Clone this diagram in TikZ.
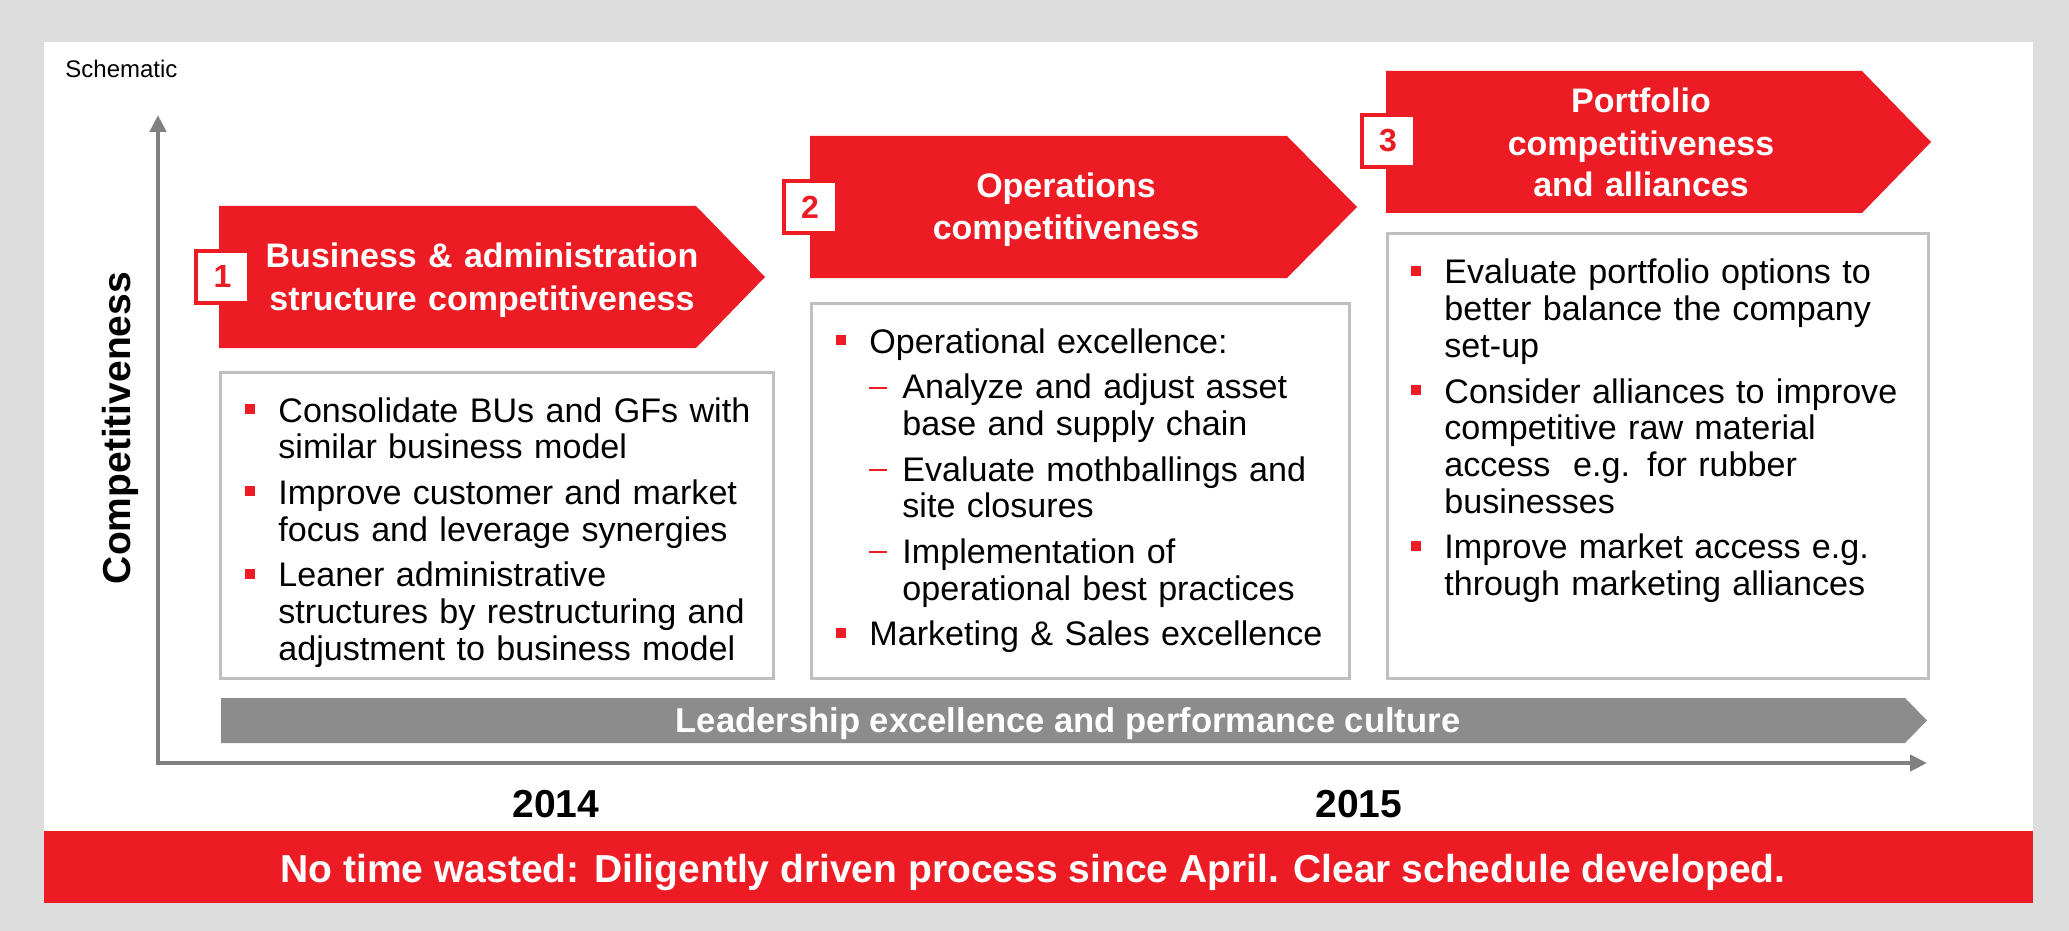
\documentclass[tikz,border=0pt]{standalone}
\usepackage{fontspec}
\setmainfont{Liberation Sans}
\usepackage{xcolor}
\usetikzlibrary{arrows.meta}
\definecolor{evred}{RGB}{237,28,36}
\definecolor{bargray}{RGB}{140,140,140}
\definecolor{axisgray}{RGB}{128,128,128}
\definecolor{framegray}{RGB}{191,191,191}
\definecolor{pagegray}{RGB}{221,221,221}
% list markers: red square for items, red dash for sub-items (each item ends with \par)
\newcommand\bitem{\parskip=4.5pt\hangindent=16.5pt\hangafter=1\noindent\makebox[16.5pt][l]{\textcolor{evred}{\rule[4pt]{5pt}{5pt}}}}
\newcommand\ditem{\parskip=4.5pt\hangindent=33pt\hangafter=1\noindent\hspace*{16.5pt}\makebox[16.5pt][l]{\textcolor{evred}{\rule[5pt]{9pt}{1pt}}}}
\tikzset{
  axis/.style={draw=axisgray, line width=2.25pt, {Triangle[length=8.5pt,width=8pt]}-{Triangle[length=8.5pt,width=8pt]}},
  numbox/.style={draw=evred, line width=2pt, fill=white, minimum width=26.5pt, minimum height=26pt, inner sep=0pt, text=evred, font=\bfseries\fontsize{16}{16}\selectfont},
  phasetitle/.style={text=white, font=\bfseries\fontsize{17}{21}\selectfont, align=center, text width=260pt, inner sep=0pt},
  infobox/.style={draw=framegray, line width=1.5pt, fill=white},
  bulletlist/.style={inner sep=0pt, font=\fontsize{17.05}{18.35}\selectfont},
  year/.style={font=\bfseries\fontsize{19.5}{22}\selectfont, inner sep=0pt}
}
\begin{document}
\begin{tikzpicture}[x=0.5pt,y=-0.5pt]
  % Page and white panel
  \fill[pagegray] (0,0) rectangle (2069,931);
  \fill[white] (44,42) rectangle (2033,903);
  \node[anchor=base west, inner sep=0pt, font=\fontsize{12}{14}\selectfont] (schem) at (65,78) {Schematic};
  % Axes
  \coordinate (origin) at (158,763);
  \coordinate (ytop) at (158,115);
  \coordinate (xend) at (1927,763);
  \draw[axis] (ytop) -- (origin) -- (xend);
  \node[rotate=90, anchor=base, inner sep=0pt, font=\bfseries\fontsize{19.5}{22}\selectfont] (ylab) at (130,428) {Competitiveness};
  % Phase 1
  \fill[evred] (219,206) -- (696,206) -- (765,277) -- (696,348) -- (219,348) -- cycle;
  \node[phasetitle, anchor=base] (title1) at (482,268) {Business \& administration\\structure competitiveness};
  \node[numbox] (num1) at (222.5,276.5) {1};
  \draw[infobox] (220,372) rectangle (773,678);
  \node[bulletlist, text width=262pt, anchor=base west] (list1) at (245,422) {%
    \bitem Consolidate BUs and GFs with\newline similar business model\par
    \bitem Improve customer and market\newline focus and leverage synergies\par
    \bitem Leaner administrative\newline structures by restructuring and\newline adjustment to business model\par};
  % Phase 2
  \fill[evred] (810,136) -- (1287,136) -- (1357,207) -- (1287,278) -- (810,278) -- cycle;
  \node[phasetitle, anchor=base] (title2) at (1066,198) {Operations\\competitiveness};
  \node[numbox] (num2) at (810,207) {2};
  \draw[infobox] (811,303) rectangle (1349,678);
  \node[bulletlist, text width=252pt, anchor=base west] (list2) at (836,353) {%
    \bitem Operational excellence:\par
    \ditem Analyze and adjust asset\newline base and supply chain\par
    \ditem Evaluate mothballings and\newline site closures\par
    \ditem Implementation of\newline operational best practices\par
    \bitem Marketing \& Sales excellence\par};
  % Phase 3
  \fill[evred] (1386,71) -- (1862,71) -- (1931,142) -- (1862,213) -- (1386,213) -- cycle;
  \node[phasetitle, anchor=base] (title3) at (1641,113) {Portfolio\\competitiveness\\and alliances};
  \node[numbox] (num3) at (1388,141) {3};
  \draw[infobox] (1387,234) rectangle (1928,678);
  \node[bulletlist, text width=252pt, anchor=base west] (list3) at (1411,284) {%
    \bitem Evaluate portfolio options to\newline better balance the company\newline set-up\par
    \bitem Consider alliances to improve\newline competitive raw material\newline access~ e.g. for rubber\newline businesses\par
    \bitem Improve market access e.g.\newline through marketing alliances\par};
  % Leadership bar
  \fill[bargray] (221,698) -- (1905,698) -- (1927,720.5) -- (1905,743) -- (221,743) -- cycle;
  \node[anchor=base, inner sep=0pt, text=white, font=\bfseries\fontsize{17.3}{20}\selectfont] (lead) at (1068,732) {Leadership excellence and performance culture};
  % Years
  \node[year, anchor=base] (y2014) at (556,817) {2014};
  \node[year, anchor=base] (y2015) at (1359,817) {2015};
  % Banner
  \fill[evred] (44,831) rectangle (2033,903);
  \node[anchor=base, inner sep=0pt, text=white, font=\bfseries\fontsize{19.5}{22}\selectfont] (banner) at (1033,882) {No time wasted: Diligently driven process since April. Clear schedule developed.};
\end{tikzpicture}
\end{document}
